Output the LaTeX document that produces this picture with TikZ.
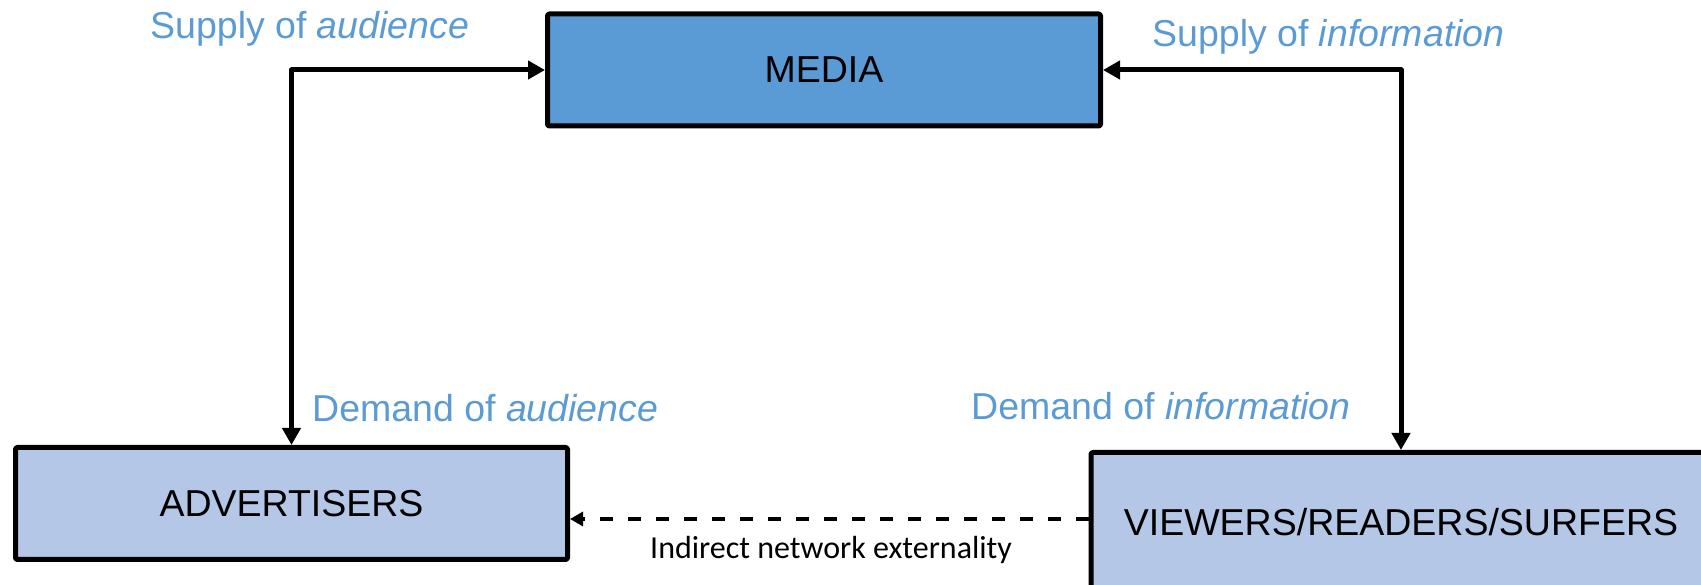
\documentclass[tikz,border=0pt]{standalone}
\usepackage{fontspec}
\setmainfont{Liberation Sans}
\newfontfamily\calibrifont{Carlito}
\usetikzlibrary{arrows.meta}
\definecolor{mediablue}{HTML}{5B9BD5}
\definecolor{agentblue}{HTML}{B4C7E7}
\definecolor{labelblue}{HTML}{5B9BD5}
\begin{document}
\begin{tikzpicture}[x=1pt, y=1pt, >={Triangle[length=17pt,width=18pt]}, line join=round,
 box/.style={draw, line width=5pt, rounded corners=1.5pt, inner sep=0pt, font=\fontsize{37.5}{45}\selectfont},
 flow/.style={<->, line width=5pt},
 tag/.style={text=labelblue, anchor=base west, inner sep=0pt, font=\fontsize{37.5}{45}\selectfont}]
 \useasboundingbox (0,0) rectangle (1701,584);
 % Boxes
 \node[box, fill=mediablue, minimum width=553pt, minimum height=112pt] (media) at (824,514) {MEDIA};
 \node[box, fill=agentblue, minimum width=552pt, minimum height=112pt] (adv) at (291.5,80.5) {ADVERTISERS};
 \node[box, fill=agentblue, minimum width=620pt, minimum height=140pt] (view) at (1401,61.5) {VIEWERS/READERS/SURFERS};
 % Flows
 \draw[flow] (adv.north) |- (media.west);
 \draw[flow] (media.east) -| (view.north);
 \draw[->, line width=4.5pt, dash pattern=on 13pt off 15pt, >={Triangle[length=13pt,width=14pt]}]
  ([yshift=3.5pt]view.west) -- ([yshift=3.5pt]view.west -| adv.east);
 % Labels
 \node[tag] (supaud) at (150,545) {Supply of \textit{audience}};
 \node[tag] (supinf) at (1152,537) {Supply of \textit{information}};
 \node[tag] (demaud) at (312,162) {Demand of \textit{audience}};
 \node[tag] (deminf) at (971,164) {Demand of \textit{information}};
 \node[anchor=base west, inner sep=0pt, font=\calibrifont\fontsize{32}{38}\selectfont] (extern) at (650,25) {Indirect network externality};
\end{tikzpicture}
\end{document}
